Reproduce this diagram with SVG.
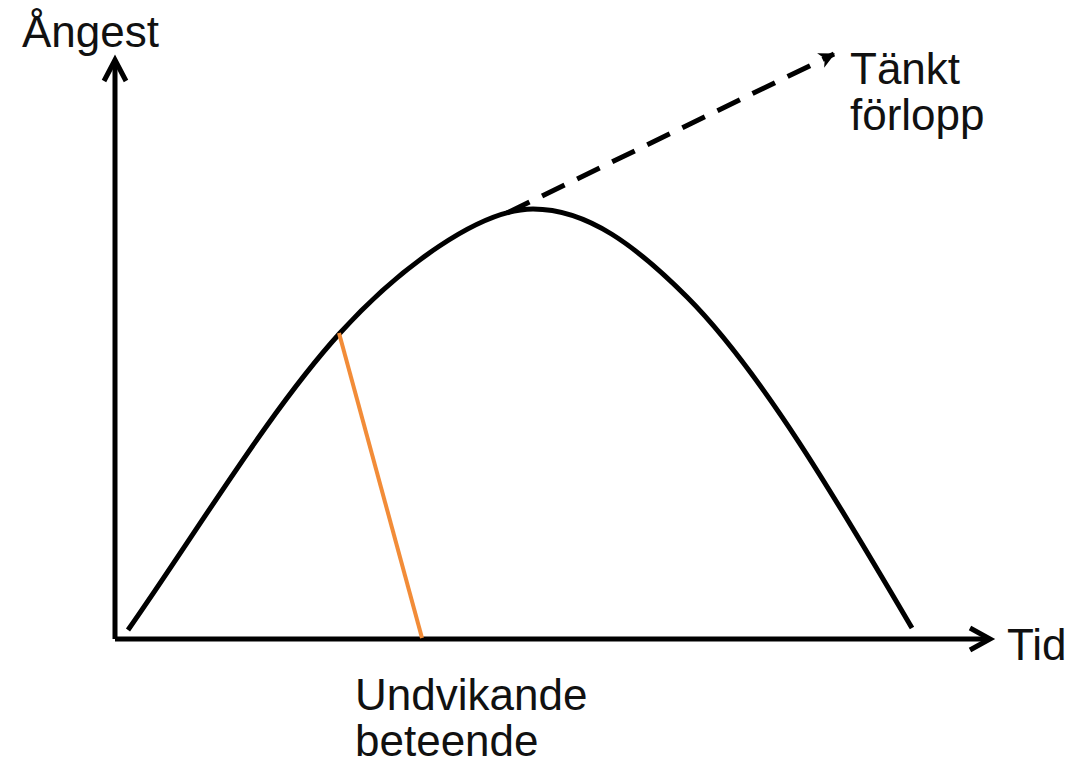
<svg xmlns="http://www.w3.org/2000/svg" width="1076" height="767" viewBox="0 0 1076 767">
<style>
.lbl{font-family:"Liberation Sans",Arial,sans-serif;font-size:44px;fill:#111}
.axis{stroke:#000;stroke-width:5;fill:none}
.head{stroke:#000;stroke-width:5;fill:none;stroke-linecap:butt;stroke-linejoin:miter}
.curve{stroke:#000;stroke-width:5;fill:none;stroke-linecap:butt}
</style>
<defs>
<marker id="tri" markerWidth="16" markerHeight="16" refX="13" refY="7" orient="auto" markerUnits="userSpaceOnUse" viewBox="0 0 14 14">
<path d="M0,0 L14,7 L0,14 L4,7 Z" fill="#000"/>
</marker>
</defs>
<rect width="1076" height="767" fill="#fff"/>
<g id="axes">
<path class="axis" d="M115,639 V60"/>
<path class="head" d="M104,81 L115,60 L126,81"/>
<path class="axis" d="M115,639 H989"/>
<path class="head" d="M970,628 L990,639 L970,650"/>
</g>
<g id="curve">
<path class="curve" d="M128,630 C198,530 270,410 340,333 C400,267 480,209 533,209 C588,209 637,247 687,297 C762,372 842,509 912,628"/>
</g>
<g id="connectors">
<line x1="507" y1="213" x2="834" y2="54" stroke="#000" stroke-width="5" stroke-dasharray="25 14" marker-end="url(#tri)"/>
<line x1="339" y1="333" x2="422" y2="638" stroke="#F28C38" stroke-width="4"/>
</g>
<g id="labels">
<text class="lbl" x="22" y="47">Ångest</text>
<text class="lbl" x="850" y="84">Tänkt</text>
<text class="lbl" x="850" y="130">förlopp</text>
<text class="lbl" x="1007" y="660">Tid</text>
<text class="lbl" x="355" y="710">Undvikande</text>
<text class="lbl" x="355" y="756">beteende</text>
</g>
</svg>
